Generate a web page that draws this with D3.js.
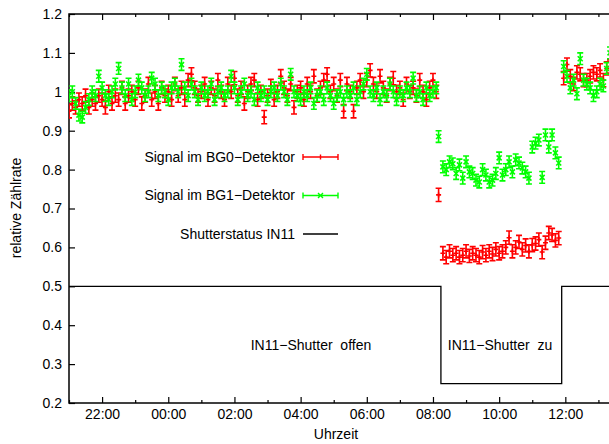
<!DOCTYPE html>
<html lang="de">
	<head>
		<meta charset="utf-8">
		<title>BG0 / BG1 Zählrate</title>
		<script src="https://d3js.org/d3.v7.min.js"></script>
		<style>
			body { margin: 0; background: white; }
			text { font-family: "Liberation Sans", Arial, Helvetica, sans-serif; font-size: 14px; fill: #000; }
		</style>
	</head>
	<body>
		<script type="text/javascript">

			//Width and height of svg
			var w = 609;
			var h = 444;

			// plot area (note: "top" is reserved on window, so use plot* names)
			var plotLeft = 69, plotRight = 610, plotTop = 14, plotBottom = 403;

			// time axis in hours since midnight of the first day (24 = 00:00 next day)
			var xmin = 21.0;
			var xmax = 37.35;
			var ymin = 0.2;
			var ymax = 1.2;

			var xTicks = [22, 24, 26, 28, 30, 32, 34, 36];
			var xMinorTicks = [21, 23, 25, 27, 29, 31, 33, 35, 37];
			var yTicks = [0.2, 0.3, 0.4, 0.5, 0.6, 0.7, 0.8, 0.9, 1.0, 1.1, 1.2];

			// measurement segments: start time (h) and sampling step (h)
			var seg1Start = 21.0, seg1Step = 0.1;
			var transTime = 32.17;
			var seg2Start = 32.3, seg2Step = 0.1;
			var seg3Start = 35.95, seg3Step = 0.1;

			// error bars
			var errBG0 = 0.017;
			var errBG1 = 0.015;

			// BG0 detector (red)
			var bg0Open1 = [0.95, 0.97, 0.96, 0.98, 0.97, 0.99, 0.96, 0.98, 0.97, 0.99,
				0.98, 0.96, 1.00, 0.97, 0.99, 0.98, 1.01, 0.97, 0.99, 1.00,
				0.98, 1.01, 0.97, 0.99, 1.02, 0.98, 1.00, 0.97, 1.01, 0.99,
				1.00, 0.98, 1.02, 0.99, 1.01, 0.98, 1.03, 1.045, 1.01, 0.99,
				1.00, 1.02, 0.98, 1.01, 0.99, 1.03, 1.00, 0.98, 1.02, 1.00,
				1.035, 0.99, 1.01, 0.97, 1.00, 1.02, 1.03, 0.98, 1.00, 0.935,
				0.99, 1.015, 0.98, 1.00, 1.04, 1.01, 0.99, 1.02, 0.96, 1.00,
				1.01, 0.98, 1.02, 1.00, 1.04, 0.99, 1.01, 1.03, 1.045, 1.00,
				1.02, 0.99, 1.03, 0.95, 1.02, 1.00, 0.95, 1.01, 1.03, 1.00,
				1.03, 1.055, 1.02, 1.00, 1.04, 1.01, 0.99, 1.02, 1.035, 1.00,
				1.01, 0.98, 1.02, 1.00, 1.01, 0.99, 1.03, 1.00, 0.98, 1.01, 1.03, 1.00];
			var bg0Trans = 0.735;
			var bg0Closed = [0.585, 0.575, 0.59, 0.58, 0.585, 0.575, 0.58, 0.59, 0.578, 0.585,
				0.58, 0.575, 0.588, 0.58, 0.59, 0.583, 0.595, 0.585, 0.59, 0.60,
				0.625, 0.59, 0.60, 0.614, 0.595, 0.605, 0.59, 0.606, 0.61, 0.62,
				0.588, 0.612, 0.637, 0.632, 0.618, 0.624];
			var bg0Open2 = [1.035, 1.07, 1.04, 1.02, 1.05, 1.045, 1.03, 1.03, 1.04, 1.05,
				1.045, 1.055, 1.03, 1.06, 1.065];

			// BG1 detector (green)
			var bg1Open1 = [0.99, 1.00, 0.97, 0.94, 0.935, 0.96, 0.98, 1.00, 0.99, 1.04,
				1.01, 0.99, 0.98, 1.00, 1.02, 1.06, 1.01, 0.99, 1.02, 0.98,
				1.00, 1.03, 1.01, 0.99, 1.00, 1.035, 1.02, 0.99, 1.01, 1.00,
				0.98, 1.01, 1.02, 1.00, 1.07, 1.01, 0.99, 1.02, 1.00, 0.98,
				1.01, 0.99, 1.00, 1.02, 0.98, 1.00, 1.01, 0.99, 1.00, 1.04,
				1.01, 0.98, 1.00, 1.02, 0.99, 1.00, 0.98, 1.01, 0.99, 1.00,
				0.98, 1.00, 1.01, 0.99, 1.02, 1.00, 0.98, 1.045, 1.00, 0.99,
				0.98, 1.00, 0.99, 1.01, 0.97, 0.99, 1.00, 0.98, 1.01, 0.99,
				0.97, 0.99, 1.00, 0.98, 1.00, 0.99, 1.01, 0.98, 1.00, 1.02,
				1.045, 1.00, 0.99, 1.01, 0.98, 1.00, 0.99, 1.02, 1.00, 0.98,
				1.00, 0.99, 1.01, 1.00, 1.035, 0.99, 1.00, 0.98, 1.01, 0.99, 1.00, 1.01];
			var bg1Trans = 0.885;
			var bg1Closed = [0.807, 0.80, 0.82, 0.815, 0.79, 0.812, 0.778, 0.82, 0.794, 0.79,
				0.773, 0.768, 0.80, 0.786, 0.768, 0.773, 0.79, 0.83, 0.786, 0.80,
				0.82, 0.794, 0.825, 0.817, 0.804, 0.794, 0.778, 0.858, 0.868, 0.876,
				0.78, 0.889, 0.858, 0.889, 0.843, 0.817];
			var bg1Open2 = [1.065, 1.04, 1.01, 1.03, 0.995, 1.085, 1.03, 1.02, 1.01, 0.99,
				1.00, 1.02, 1.015, 1.06, 1.10];

			// shutter status IN11 (step function)
			var shutterTimes = [21.0, 32.24, 35.89, 37.5];
			var shutterValues = [0.5, 0.25, 0.5, 0.5];

			var legendLabels = ["Signal im BG0\u2212Detektor", "Signal im BG1\u2212Detektor", "Shutterstatus IN11"];

			// build point lists
			function series(open1, trans, closed, open2, err) {
				var pts = [];
				open1.forEach(function(v, i) { pts.push({t: seg1Start + i * seg1Step, v: v, e: err}); });
				pts.push({t: transTime, v: trans, e: err});
				closed.forEach(function(v, i) { pts.push({t: seg2Start + i * seg2Step, v: v, e: err}); });
				open2.forEach(function(v, i) { pts.push({t: seg3Start + i * seg3Step, v: v, e: err}); });
				return pts;
			}
			var bg0 = series(bg0Open1, bg0Trans, bg0Closed, bg0Open2, errBG0);
			var bg1 = series(bg1Open1, bg1Trans, bg1Closed, bg1Open2, errBG1);

			//		Scale functions
			var x_scale = d3.scaleLinear().domain([xmin, xmax]).range([plotLeft, plotRight]);
			var y_scale = d3.scaleLinear().domain([ymin, ymax]).range([plotBottom, plotTop]);

			var hhmm = function(d) { return d3.format("02")(d % 24) + ":00"; };
			var yfmt = function(d) { return String(+d.toFixed(1)); };

			//    Create SVG element
			var svg = d3.select("body").append("svg").attr("width", w).attr("height", h);
			svg.append("rect").attr("x", 0).attr("y", 0).attr("width", w).attr("height", h).attr("fill", "white");

			//    Axes (gnuplot style, ticks inside)
			var gx = svg.append("g").attr("transform", "translate(0," + plotBottom + ")")
				.call(d3.axisBottom(x_scale).tickValues(xTicks).tickFormat(hhmm).tickSizeInner(-6).tickSizeOuter(0).tickPadding(5));
			svg.append("g").attr("transform", "translate(0," + plotBottom + ")")
				.call(d3.axisBottom(x_scale).tickValues(xMinorTicks).tickFormat("").tickSizeInner(-3).tickSizeOuter(0));
			svg.append("g").attr("transform", "translate(0," + plotTop + ")")
				.call(d3.axisTop(x_scale).tickValues(xTicks).tickFormat("").tickSizeInner(-6).tickSizeOuter(0));
			svg.append("g").attr("transform", "translate(0," + plotTop + ")")
				.call(d3.axisTop(x_scale).tickValues(xMinorTicks).tickFormat("").tickSizeInner(-3).tickSizeOuter(0));
			svg.append("g").attr("transform", "translate(" + plotLeft + ",0)")
				.call(d3.axisLeft(y_scale).tickValues(yTicks).tickFormat(yfmt).tickSizeInner(-6).tickSizeOuter(0).tickPadding(7));

			svg.selectAll(".domain").remove();
			svg.selectAll(".tick line").attr("stroke", "#000").attr("stroke-width", 1.2);
			svg.selectAll(".tick text").attr("font-size", 14).attr("font-family", "Liberation Sans, Arial, sans-serif").attr("fill", "#000");
			gx.selectAll(".tick text").attr("dy", "0.75em");

			//    Border
			svg.append("rect").attr("x", plotLeft).attr("y", plotTop).attr("width", plotRight - plotLeft).attr("height", plotBottom - plotTop)
				.attr("fill", "none").attr("stroke", "#000").attr("stroke-width", 1.5);

			// clip for data
			svg.append("clipPath").attr("id", "plotclip").append("rect")
				.attr("x", plotLeft).attr("y", plotTop).attr("width", plotRight - plotLeft).attr("height", plotBottom - plotTop);
			var plot = svg.append("g").attr("clip-path", "url(#plotclip)");

			//    Error bars + point symbols
			function drawSeries(data, color, symbol) {
				var g = plot.append("g").attr("stroke", color).attr("stroke-width", 1.6).attr("fill", "none");
				g.selectAll("path.eb").data(data).enter().append("path").attr("class", "eb")
					.attr("d", function(d) {
						var x = x_scale(d.t), y1 = y_scale(d.v - d.e), y2 = y_scale(d.v + d.e);
						return "M" + x + "," + y1 + "V" + y2 +
							"M" + (x - 3) + "," + y1 + "H" + (x + 3) +
							"M" + (x - 3) + "," + y2 + "H" + (x + 3);
					});
				g.selectAll("path.pt").data(data).enter().append("path").attr("class", "pt")
					.attr("d", function(d) { return symbol(x_scale(d.t), y_scale(d.v)); });
			}
			var plus = function(x, y) { return "M" + (x - 2.5) + "," + y + "H" + (x + 2.5) + "M" + x + "," + (y - 2.5) + "V" + (y + 2.5); };
			var cross = function(x, y) { return "M" + (x - 2.5) + "," + (y - 2.5) + "L" + (x + 2.5) + "," + (y + 2.5) + "M" + (x - 2.5) + "," + (y + 2.5) + "L" + (x + 2.5) + "," + (y - 2.5); };

			drawSeries(bg0, "#ff0000", plus);
			drawSeries(bg1, "#00ff00", cross);

			//    Shutter status line
			var shutterLine = d3.line().x(function(d, i) { return x_scale(shutterTimes[i]); })
				.y(function(d) { return y_scale(d); }).curve(d3.curveStepAfter);
			plot.append("path").attr("d", shutterLine(shutterValues)).attr("fill", "none")
				.attr("stroke", "#000").attr("stroke-width", 1.3);

			//    Labels inside plot
			svg.append("text").attr("x", 311).attr("y", 350).attr("text-anchor", "middle").attr("xml:space", "preserve").text("IN11\u2212Shutter  offen");
			svg.append("text").attr("x", 500).attr("y", 350).attr("text-anchor", "middle").attr("xml:space", "preserve").text("IN11\u2212Shutter  zu");

			//    Legend
			var legY = [157, 195.5, 234];
			var leg = svg.append("g");
			legendLabels.forEach(function(lbl, i) {
				leg.append("text").attr("x", 295).attr("y", legY[i]).attr("dy", "0.35em").attr("text-anchor", "end").text(lbl);
			});
			var legColors = ["#ff0000", "#00ff00"];
			var legSymbols = [plus, cross];
			legColors.forEach(function(c, i) {
				var y = legY[i];
				leg.append("path").attr("fill", "none").attr("stroke", c).attr("stroke-width", 1.4)
					.attr("d", "M303," + y + "H338M303," + (y - 3) + "V" + (y + 3) + "M338," + (y - 3) + "V" + (y + 3) + " " + legSymbols[i](320.5, y));
			});
			leg.append("path").attr("d", "M303," + legY[2] + "H338").attr("stroke", "#000").attr("stroke-width", 1.3);

			//    Axis titles
			svg.append("text").attr("x", 336).attr("y", 439).attr("text-anchor", "middle").text("Uhrzeit");
			svg.append("text").attr("transform", "translate(21,208) rotate(-90)").attr("text-anchor", "middle").text("relative Zählrate");

		</script>
	</body>
</html>
